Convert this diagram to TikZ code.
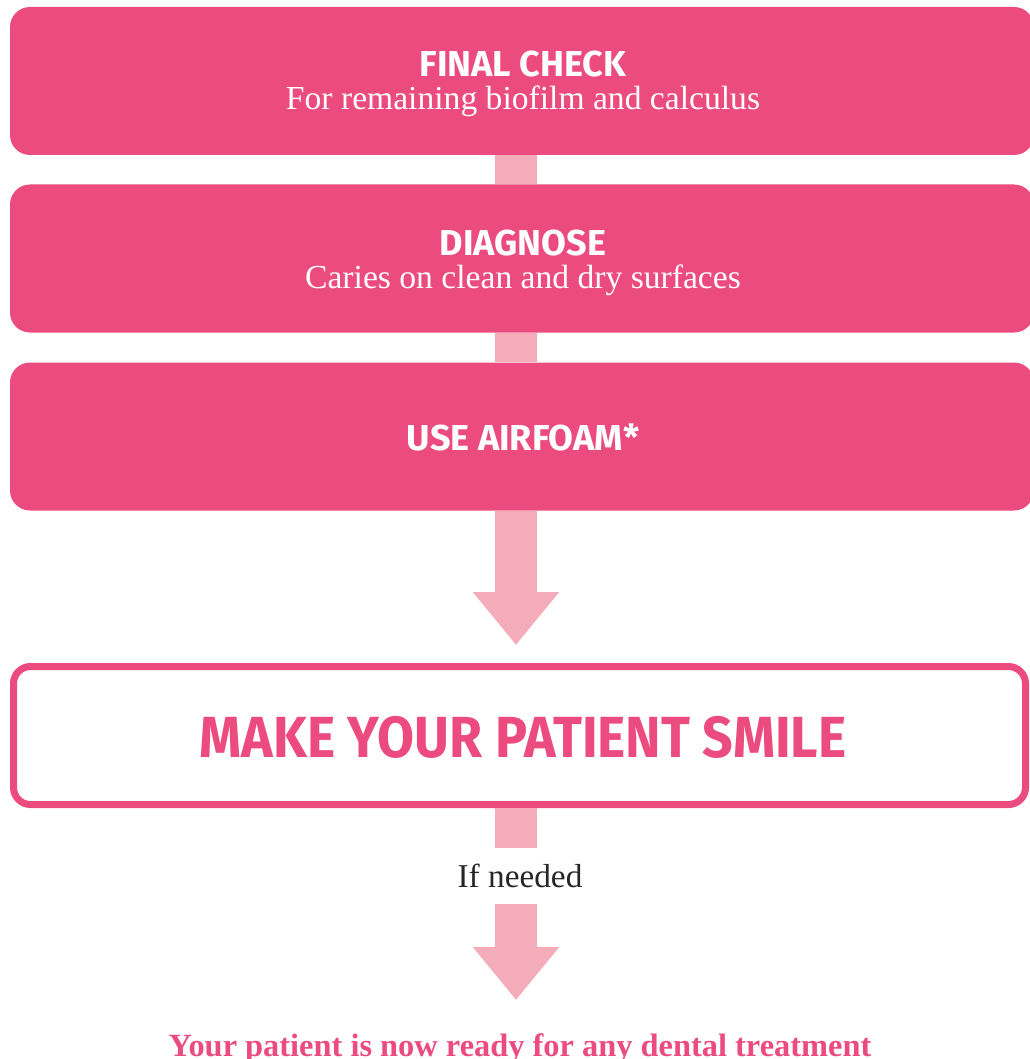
\documentclass[tikz,border=0pt]{standalone}
\usepackage{fontspec}
\setmainfont{Liberation Serif}
\newfontfamily\headsans{Fira Sans}
\newfontfamily\headsansnarrow[FakeStretch=0.923]{Fira Sans}
\usetikzlibrary{arrows.meta}
\definecolor{boxpink}{HTML}{EC4B80}
\definecolor{arrowpink}{HTML}{F4ACBB}
\begin{document}
\begin{tikzpicture}[x=1pt,y=-1pt,
  stepbox/.style={draw=none, fill=boxpink, rounded corners=20pt, minimum width=1024pt, minimum height=148pt, inner sep=0pt},
  smilebox/.style={draw=boxpink, line width=7pt, fill=white, rounded corners=17pt, minimum width=1012pt, minimum height=138pt, inner sep=0pt},
  titletext/.style={text=white, font=\headsans\bfseries\fontsize{36}{40}\selectfont, inner sep=0pt, anchor=base},
  subtext/.style={text=white, font=\fontsize{33.6}{38}\selectfont, inner sep=0pt, anchor=base},
  smiletext/.style={text=boxpink, font=\headsansnarrow\bfseries\fontsize{58}{62}\selectfont, inner sep=0pt, anchor=base},
  notetext/.style={text=black!85, font=\fontsize{33.3}{38}\selectfont, inner sep=0pt, minimum height=55pt},
  finaltext/.style={text=boxpink, font=\bfseries\fontsize{32.4}{36}\selectfont, inner sep=0pt, anchor=base},
  shaft/.style={draw=arrowpink, line width=42pt},
  bigarrow/.style={draw=arrowpink, line width=42pt, -{Triangle[length=53pt, width=83pt]}},
]
\useasboundingbox (0,0) rectangle (1029,1059);
% boxes
\node[stepbox] (check) at (522,81) {};
\node[stepbox] (diag) at (522,258.5) {};
\node[stepbox] (use) at (522,436.5) {};
\node[notetext] (ifn) at (520,876) {If needed};
\coordinate (tip1) at (516,645);
\coordinate (tip2) at (516,1000);
% connectors
\draw[shaft] ([xshift=-6pt]check.south) -- ([xshift=-6pt]diag.north);
\draw[shaft] ([xshift=-6pt]diag.south) -- ([xshift=-6pt]use.north);
\draw[bigarrow] ([xshift=-6pt]use.south) -- (tip1);
\node[smilebox] (smile) at (519.5,735.5) {};
\draw[shaft] ([xshift=-3.5pt]smile.south) -- ([xshift=-4pt]ifn.north);
\draw[bigarrow] ([xshift=-4pt]ifn.south) -- (tip2);
% texts
\node[titletext] (t1) at (523,77) {FINAL CHECK};
\node[subtext] (s1) at (523,110) {For remaining biofilm and calculus};
\node[titletext] (t2) at (523,255) {DIAGNOSE};
\node[subtext] (s2) at (523,288) {Caries on clean and dry surfaces};
\node[titletext] (t3) at (523,450) {USE AIRFOAM*};
\node[smiletext] (t4) at (523,757) {MAKE YOUR PATIENT SMILE};
\node[finaltext] (ready) at (520,1056) {Your patient is now ready for any dental treatment};
\end{tikzpicture}
\end{document}
